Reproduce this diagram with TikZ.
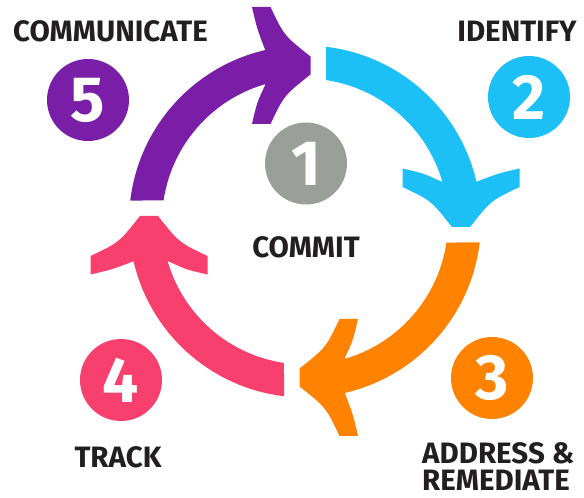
\documentclass[tikz,border=0pt]{standalone}
\usepackage{fontspec}
\setmainfont{Fira Sans}
\definecolor{cpurple}{RGB}{122,30,168}
\definecolor{ccyan}{RGB}{28,191,246}
\definecolor{corange}{RGB}{255,131,0}
\definecolor{cpink}{RGB}{247,64,110}
\definecolor{cgray}{RGB}{154,159,153}
\definecolor{txt}{RGB}{35,31,32}
\newcommand\cyclearrow[2]{%
  \begin{scope}[shift={(305,276.5)},rotate=#1]
    \fill[#2] (83.15:176) arc[start angle=83.15,end angle=10,radius=176]
      -- (10:143) arc[start angle=10,end angle=81.55,radius=143] -- cycle;
    \fill[#2] (147,-5.5) -- (165,-5.5) .. controls (186,21) .. (214.5,34.5)
      -- (214.5,53) .. controls (193,48) .. (172,40) -- (136,40)
      .. controls (119,48) .. (97.5,53) -- (97.5,34.5)
      .. controls (126,21) .. (147,-5.5) -- cycle;
  \end{scope}}
\begin{document}
\begin{tikzpicture}[x=1pt,y=1pt,
  steptext/.style={font=\fontsize{29.5}{29.5}\selectfont\bfseries, text=txt, inner sep=0pt},
  stepnum/.style={circle, minimum size=82pt, inner sep=0pt, text=white,
    font=\fontsize{64}{64}\selectfont\bfseries}]
\useasboundingbox (0,0) rectangle (584,498);
\cyclearrow{0}{ccyan}
\cyclearrow{-90}{corange}
\cyclearrow{-180}{cpink}
\cyclearrow{90}{cpurple}
\node[stepnum, fill=cpurple] (n5) at (88,398) {5};
\node[stepnum, fill=ccyan] (n2) at (529,401) {2};
\node[stepnum, fill=corange] (n3) at (492,120) {3};
\node[stepnum, fill=cpink] (n4) at (121,118) {4};
\node[stepnum, fill=cgray] (n1) at (306,334.5) {1};
\node[steptext, anchor=base] (l5) at (110.5,456) {COMMUNICATE};
\node[steptext, anchor=base] (l2) at (517,456) {IDENTIFY};
\node[steptext, anchor=base] (l1) at (306,240) {COMMIT};
\node[steptext, anchor=base] (l4) at (118,30) {TRACK};
\node[steptext, anchor=base west] (l3a) at (422,34) {ADDRESS \&};
\node[steptext, anchor=base west] (l3b) at (422,7) {REMEDIATE};
\end{tikzpicture}
\end{document}
